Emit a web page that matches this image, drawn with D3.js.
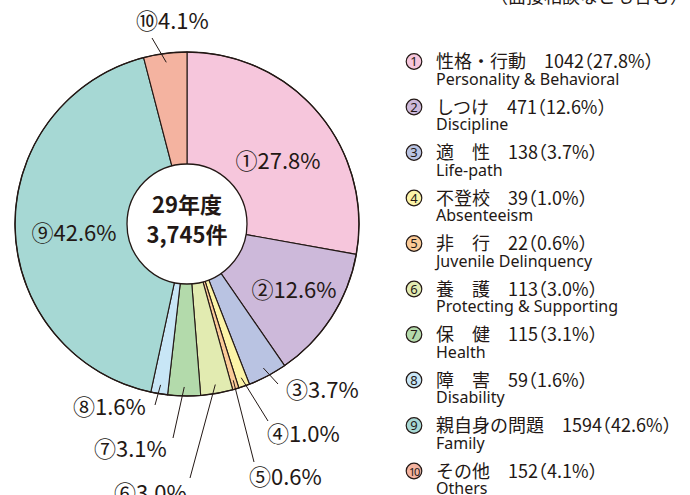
<!DOCTYPE html>
<html>
<head>
<meta charset="utf-8">
<script src="https://cdn.jsdelivr.net/npm/d3@7"></script>
<style>
  html, body { margin: 0; padding: 0; background: #fff; }
  svg { display: block; }
  .jp { font-family: "Noto Sans CJK JP", "Noto Sans", sans-serif; }
  .en { font-family: "Noto Sans", "DejaVu Sans", sans-serif; }
  .halt { font-feature-settings: "halt"; }
</style>
</head>
<body>
<svg id="chart" width="690" height="495"></svg>
<script>
// ---- data ----
const categoriesJa = ["性格・行動", "しつけ", "適　性", "不登校", "非　行", "養　護", "保　健", "障　害", "親自身の問題", "その他"];
const categoriesEn = ["Personality & Behavioral", "Discipline", "Life-path", "Absenteeism", "Juvenile Delinquency", "Protecting & Supporting", "Health", "Disability", "Family", "Others"];
const counts = [1042, 471, 138, 39, 22, 113, 115, 59, 1594, 152];
const circled = ["①", "②", "③", "④", "⑤", "⑥", "⑦", "⑧", "⑨", "⑩"];
const yearLabel = "29年度";
const noteText = "（面接相談なども含む）";

// ---- style / layout ----
const colors = ["#f6c6dc", "#cdb9da", "#b9c3e2", "#fcf4a8", "#fbcb98", "#e2ebb1", "#b3daab", "#c8e6f6", "#a6d8d4", "#f4b3a0"];
const ink = "#231815";
const cx = 187, cy = 224, R = 172, r0 = 60;
// label layout (relative to pie centre): inside labels = text centre; outside = leader end + text start
const inLabels = { 0: [91, -63], 1: [107, 66], 8: [-113, 9] };
const outLabels = {
  2: { end: [91, 160], text: [99, 174] },
  3: { end: [81, 197], text: [80, 218] },
  4: { end: [67, 238], text: [62, 261] },
  5: { end: [3, 254], text: [-73, 277] },
  6: { end: [-14, 214], text: [-93, 233] },
  7: { end: [-32, 181], text: [-114, 191] },
  9: { end: [-35, -186], text: [-51, -195] }
};

const svg = d3.select("#chart");
const total = d3.sum(counts);
const pct = d => d3.format(".1f")(d / total * 100);

// note at top right (cut off in the reference)
svg.append("text").attr("class", "jp")
  .attr("x", 688).attr("y", 3).attr("text-anchor", "end")
  .attr("font-size", 18).attr("fill", ink).text(noteText);

const g = svg.append("g").attr("transform", `translate(${cx},${cy})`);
const pie = d3.pie().sort(null).value(d => d);
const arcs = pie(counts);
const arc = d3.arc().innerRadius(0).outerRadius(R);

g.selectAll("path.slice").data(arcs).join("path")
  .attr("class", "slice")
  .attr("d", arc)
  .attr("fill", (d, i) => colors[i])
  .attr("stroke", ink).attr("stroke-width", 1.1).attr("stroke-linejoin", "round");

g.append("circle").attr("r", R).attr("fill", "none").attr("stroke", ink).attr("stroke-width", 1.4);

// centre hole
g.append("circle").attr("r", r0).attr("fill", "#fff").attr("stroke", ink).attr("stroke-width", 1.3);
g.append("text").attr("class", "jp").attr("text-anchor", "middle")
  .attr("y", -11).attr("font-size", 22).attr("font-weight", 700).attr("fill", ink).text(yearLabel);
g.append("text").attr("class", "jp").attr("text-anchor", "middle")
  .attr("y", 19).attr("font-size", 22).attr("font-weight", 700).attr("fill", ink)
  .text(d3.format(",")(total) + "件");

// inside labels
Object.entries(inLabels).forEach(([i, p]) => {
  g.append("text").attr("class", "jp").attr("text-anchor", "middle")
    .attr("x", p[0]).attr("y", p[1] + 7.5).attr("font-size", 22).attr("fill", ink)
    .text(circled[i] + pct(counts[i]) + "%");
});

// outside labels with leader lines
Object.entries(outLabels).forEach(([i, L]) => {
  const a = arcs[i];
  const mid = (a.startAngle + a.endAngle) / 2;
  const sx = 163 * Math.sin(mid), sy = -163 * Math.cos(mid);
  g.append("line").attr("x1", sx).attr("y1", sy).attr("x2", L.end[0]).attr("y2", L.end[1])
    .attr("stroke", ink).attr("stroke-width", 1);
  g.append("text").attr("class", "jp")
    .attr("x", L.text[0]).attr("y", L.text[1]).attr("font-size", 22).attr("fill", ink)
    .text(circled[i] + pct(counts[i]) + "%");
});

// legend
const lx = 414, ly0 = 61.5, dy = 45.5;
const leg = svg.append("g");
counts.forEach((v, i) => {
  const y = ly0 + i * dy;
  leg.append("circle").attr("cx", lx).attr("cy", y).attr("r", 7.8)
    .attr("fill", colors[i]).attr("stroke", ink).attr("stroke-width", 1.2);
  leg.append("text").attr("class", "en").attr("x", lx).attr("y", y + 4.6)
    .attr("text-anchor", "middle").attr("font-size", i === 9 ? 11 : 13)
    .attr("letter-spacing", i === 9 ? -1.2 : 0)
    .attr("fill", ink).text(String(i + 1));
  const t = leg.append("text").attr("class", "jp").attr("x", 436).attr("y", y + 6.5)
    .attr("font-size", 18).attr("fill", ink);
  t.append("tspan").text(categoriesJa[i] + "　");
  t.append("tspan").attr("class", "halt").text(v + "（" + pct(v) + "%）");
  leg.append("text").attr("class", "en").attr("x", 436).attr("y", y + 23)
    .attr("font-size", 16).attr("fill", ink).text(categoriesEn[i]);
});
</script>
</body>
</html>
